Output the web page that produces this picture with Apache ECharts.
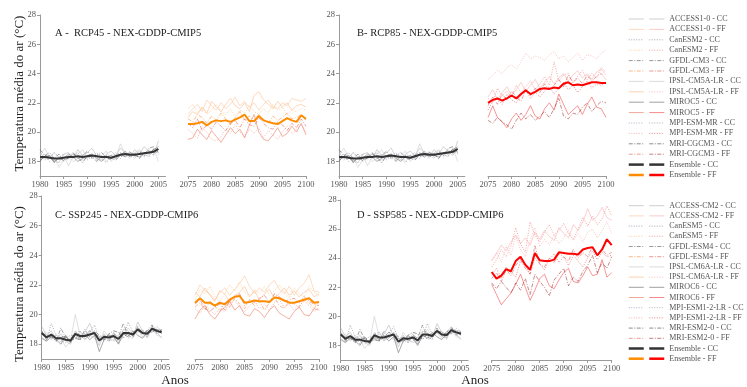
<!DOCTYPE html>
<html>
<head>
<meta charset="utf-8">
<script src="https://cdn.jsdelivr.net/npm/echarts@6/dist/echarts.min.js"></script>
<style>
  html, body { margin: 0; padding: 0; background: #fff; }
  #chart { width: 747px; height: 387px; }
</style>
</head>
<body>
<div id="chart"></div>
<script>
// years and ticks
const yearsHist = [1980,1981,1982,1983,1984,1985,1986,1987,1988,1989,1990,1991,1992,1993,1994,1995,1996,1997,1998,1999,2000,2001,2002,2003,2004,2005];
const yearsFut = [2075,2076,2077,2078,2079,2080,2081,2082,2083,2084,2085,2086,2087,2088,2089,2090,2091,2092,2093,2094,2095,2096,2097,2098,2099,2100];
const histTicks = [1980, 1985, 1990, 1995, 2000, 2005];
const futTicks = [2075, 2080, 2085, 2090, 2095, 2100];
const tempTicks = [18, 20, 22, 24, 26, 28];

const models5 = ['ACCESS1-0', 'CanESM2', 'GFDL-CM3', 'IPSL-CM5A-LR', 'MIROC5', 'MPI-ESM-MR', 'MRI-CGCM3'];
const models6 = ['ACCESS-CM2', 'CanESM5', 'GFDL-ESM4', 'IPSL-CM6A-LR', 'MIROC6', 'MPI-ESM1-2-LR', 'MRI-ESM2-0'];

// CMIP5 historical (panels A and B)
const cc5Access = [18.6,18.2,18.4,18.1,17.9,18.5,18.6,18.2,18.8,18.4,18.6,18.9,18.3,18.1,18.5,18.7,18.4,18.9,18.6,18.3,18.8,18.5,19.0,18.7,18.4,19.4];
const cc5Canesm = [18.2,18.5,18.0,18.3,17.6,18.1,18.4,18.0,18.2,18.5,18.1,18.3,18.6,18.2,17.9,18.3,18.5,18.2,18.7,18.4,18.2,18.6,18.3,18.8,18.5,18.7];
const cc5Gfdl = [18.8,18.4,18.6,18.2,18.5,18.0,18.3,18.6,18.2,18.4,18.7,18.2,18.4,18.6,18.3,18.1,18.4,18.6,18.3,18.6,18.5,18.7,18.4,18.9,19.0,18.6];
const cc5Ipsl = [18.4,18.9,18.3,18.6,18.2,18.4,17.7,18.3,18.5,18.8,18.2,18.5,18.1,18.4,18.7,18.0,18.3,19.2,18.5,18.2,18.6,18.8,18.5,18.3,18.9,18.0];
const cc5Miroc = [18.1,18.3,18.4,17.9,18.3,18.2,18.5,18.3,18.0,18.2,18.4,18.5,18.2,18.0,18.3,18.4,18.2,18.5,18.3,18.6,18.4,18.3,18.6,18.5,18.8,19.0];
const cc5Mpi = [18.5,18.1,18.2,18.6,18.3,18.5,18.1,18.4,18.6,18.1,18.3,18.2,18.5,18.4,18.0,18.4,18.6,18.3,18.4,18.7,18.3,18.6,18.4,18.4,18.7,18.8];
const cc5Mri = [18.0,18.4,18.3,18.0,18.2,18.1,18.2,18.5,18.3,17.9,18.4,18.3,18.0,18.3,18.4,18.2,18.1,18.4,18.7,18.3,18.5,18.2,18.6,18.6,18.8,18.5];
const cc5Ens = [18.3,18.3,18.25,18.2,18.2,18.25,18.3,18.3,18.35,18.3,18.35,18.4,18.35,18.3,18.3,18.25,18.35,18.45,18.5,18.45,18.45,18.5,18.55,18.6,18.65,18.85];

// CMIP6 historical (panels C and D)
const cc6Access = [19.2,18.6,18.9,18.3,18.7,18.2,18.0,18.9,18.4,18.8,19.4,18.6,17.9,18.7,18.3,18.8,18.1,19.0,18.9,18.5,19.5,18.9,18.5,19.2,18.8,18.4];
const cc6Canesm = [18.5,18.2,19.4,18.6,18.1,18.5,18.3,18.4,18.9,18.3,18.8,19.3,18.4,18.2,18.7,18.4,18.1,18.5,19.5,18.8,18.9,18.5,19.0,18.8,19.2,18.9];
const cc6Gfdl = [18.9,18.3,18.6,18.2,19.1,18.4,18.6,18.5,18.3,19.0,18.5,18.9,18.6,18.4,18.2,18.7,18.5,19.4,18.6,18.4,19.2,18.7,18.9,19.3,18.7,19.0];
const cc6Ipsl = [18.6,18.8,18.3,18.7,18.4,17.8,18.2,20.0,18.6,18.3,18.6,18.4,18.1,18.9,18.5,18.2,18.3,18.6,19.1,18.7,18.8,19.0,18.4,19.1,18.6,18.5];
const cc6Miroc = [18.4,18.2,18.5,18.3,18.0,18.6,18.1,18.6,18.4,18.7,18.3,18.6,17.5,18.3,18.6,18.5,18.0,18.7,18.5,18.9,18.6,18.4,18.8,18.9,19.0,18.7];
const cc6Mpi = [18.9,18.5,18.4,18.6,18.3,18.1,18.4,18.8,18.9,18.4,18.5,18.9,18.4,18.6,18.2,18.3,18.6,18.9,18.4,18.6,19.0,18.6,18.5,19.2,19.0,19.0];
const cc6Mri = [18.7,18.6,18.5,18.2,18.5,18.5,18.2,18.4,18.3,18.6,18.9,18.7,18.5,18.3,18.7,18.9,18.8,18.4,18.8,18.7,19.0,18.9,18.8,18.8,19.0,18.9];
const cc6Ens = [18.75,18.45,18.65,18.4,18.4,18.3,18.25,18.7,18.55,18.55,18.65,18.75,18.25,18.5,18.45,18.55,18.35,18.75,18.75,18.65,19.0,18.75,18.7,19.05,18.9,18.8];

// A - RCP45 future
const ffAAccess = [21.2,21.6,21.9,21.4,22.2,21.8,21.5,22.0,21.6,21.9,22.4,21.8,22.1,21.7,22.0,21.5,21.9,22.2,21.7,21.6,22.0,21.8,22.3,22.2,22.1,22.3];
const ffACanesm = [21.6,21.9,21.3,21.7,21.2,21.5,21.9,21.4,21.2,21.6,21.1,21.5,21.3,21.8,21.4,21.2,21.6,21.3,21.9,21.5,21.7,21.2,21.5,21.4,21.6,21.5];
const ffAGfdl = [20.9,20.7,21.2,21.0,20.6,21.1,20.8,21.3,20.9,20.5,21.0,21.4,20.8,21.1,20.7,21.2,20.9,20.6,21.1,20.8,21.0,21.3,20.9,21.0,21.2,20.8];
const ffAIpsl = [21.0,21.4,21.2,21.7,21.3,22.1,21.7,21.4,21.9,22.3,21.8,21.6,22.0,21.4,22.5,22.75,22.2,21.9,21.6,22.1,21.7,22.0,21.5,21.8,21.9,21.7];
const ffAMiroc = [19.5,19.6,20.2,19.8,19.5,20.1,19.7,19.3,19.8,20.3,19.9,20.2,19.6,20.5,21.2,20.0,19.5,19.4,19.8,20.3,19.7,19.9,20.4,20.0,20.6,19.8];
const ffAMpi = [20.2,19.9,19.6,20.3,20.0,19.5,19.4,19.7,20.2,19.9,20.5,20.0,19.7,20.2,19.9,20.3,19.6,20.1,19.8,19.5,20.0,20.4,19.9,20.2,20.5,20.0];
const ffAMri = [20.6,20.3,20.9,20.1,20.5,20.2,20.7,20.4,20.1,20.6,20.8,20.3,20.9,20.5,20.4,21.0,20.6,20.3,20.2,20.7,20.5,20.1,20.6,20.3,20.9,20.4];
const ffAEns = [20.55,20.55,20.6,20.7,20.45,20.7,20.8,20.75,20.8,20.7,20.85,21.0,21.2,20.75,20.75,21.1,20.8,20.7,20.6,20.55,20.75,20.95,20.8,20.7,21.15,20.9];

// B - RCP85 future
const ffBAccess = [22.4,22.9,22.2,22.7,23.1,22.5,22.9,23.4,22.8,23.2,23.6,23.0,23.4,23.8,23.3,23.7,24.0,23.5,23.9,24.2,23.7,24.0,23.6,24.1,24.3,23.9];
const ffBCanesm = [22.3,22.0,23.0,22.5,22.8,22.4,23.2,22.7,23.1,23.5,22.9,23.3,23.8,23.2,24.8,23.5,23.9,24.0,23.4,23.8,24.2,23.6,24.0,23.7,24.4,24.1];
const ffBGfdl = [21.8,22.4,21.9,22.6,22.2,22.8,22.4,22.1,22.9,22.5,23.0,22.7,23.3,22.9,23.2,23.6,23.1,23.9,23.4,23.7,23.3,23.9,23.5,23.8,24.0,23.6];
const ffBIpsl = [23.6,23.9,24.2,24.0,24.4,24.6,24.3,24.8,25.4,25.0,25.2,25.1,24.9,25.3,25.5,25.0,25.2,24.8,25.1,25.4,24.9,25.3,25.2,25.0,25.4,25.6];
const ffBMiroc = [21.0,21.8,21.0,20.7,20.3,20.9,21.3,20.8,21.2,21.8,21.1,20.9,21.6,22.0,21.5,22.6,21.9,21.2,21.5,21.8,21.2,21.9,22.4,21.7,21.6,21.0];
const ffBMpi = [21.5,22.1,22.3,21.9,22.6,22.2,22.0,22.5,22.9,22.3,22.7,22.4,22.8,23.1,22.6,23.0,23.4,22.9,23.2,22.7,23.1,23.5,23.0,23.3,23.2,23.4];
const ffBMri = [20.8,20.6,21.0,20.7,20.5,20.2,20.8,21.3,20.9,21.2,20.8,21.1,21.4,21.0,21.6,22.3,21.1,20.9,21.3,21.2,21.7,22.0,21.4,21.8,22.1,22.0];
const ffBEns = [22.0,22.2,22.3,22.15,22.3,22.5,22.3,22.6,22.85,22.6,22.75,22.95,23.0,22.95,23.05,23.0,23.3,23.4,23.2,23.25,23.2,23.3,23.4,23.4,23.35,23.35];

// C - SSP245 future
const ffCAccess = [21.3,22.0,21.6,21.4,21.0,21.5,21.8,21.3,21.7,22.1,22.6,21.9,21.4,21.8,21.5,22.0,22.3,21.7,21.4,21.9,21.3,21.8,22.1,22.7,21.6,21.5];
const ffCCanesm = [21.0,21.7,21.4,21.9,21.2,20.9,21.4,22.0,21.6,22.2,21.5,21.2,21.7,21.4,21.9,21.3,21.6,22.0,21.5,21.1,21.8,21.4,21.2,21.9,21.5,21.3];
const ffCGfdl = [20.5,20.8,20.3,20.9,20.6,20.2,20.8,20.5,21.1,20.7,20.4,21.0,20.6,20.9,20.3,20.8,21.2,20.6,20.4,20.9,20.7,20.5,21.0,20.8,20.4,20.9];
const ffCIpsl = [21.5,21.2,21.8,21.3,20.9,21.6,21.4,20.8,21.3,21.5,21.9,21.2,21.6,21.0,21.4,21.7,21.1,21.4,21.8,21.3,21.6,21.2,21.5,21.7,21.2,21.4];
const ffCMiroc = [19.7,20.3,20.6,20.0,19.7,20.2,20.5,20.9,20.3,20.6,20.0,19.9,20.4,20.2,19.8,20.3,20.6,20.1,19.9,19.7,20.2,20.5,20.0,19.9,20.4,20.3];
const ffCMpi = [20.4,20.1,20.6,20.3,20.0,20.4,20.2,20.7,21.0,20.5,20.2,20.6,20.9,20.4,20.7,20.3,20.8,21.0,20.5,20.7,20.3,20.6,20.9,20.6,20.2,20.5];
const ffCMri = [20.7,21.0,20.4,20.2,20.5,20.7,20.3,20.9,21.2,21.4,20.6,21.0,20.8,21.1,21.3,20.8,21.4,21.2,20.9,21.0,21.1,20.8,21.2,20.9,20.7,20.6];
const ffCEns = [20.8,21.1,20.8,20.8,20.6,20.8,20.7,21.0,21.2,21.25,20.8,20.85,20.95,20.9,20.9,20.85,21.15,21.1,20.95,20.8,20.8,20.9,21.0,21.1,20.8,20.85];

// D - SSP585 future
const ffDAccess = [23.8,24.3,24.9,24.5,25.1,25.6,25.0,25.4,24.9,25.8,25.3,25.9,25.5,25.2,26.1,25.7,25.4,26.3,25.9,26.5,27.4,26.6,26.9,27.5,26.8,26.6];
const ffDCanesm = [23.4,23.9,24.6,24.1,24.8,26.1,25.0,24.4,26.5,25.6,25.1,25.8,26.3,25.6,25.9,26.4,25.7,25.3,26.0,26.8,26.2,26.9,26.3,26.7,27.6,26.9];
const ffDGfdl = [22.6,23.0,22.4,23.2,22.8,23.5,23.9,23.3,22.9,24.9,23.6,23.4,24.0,23.7,24.3,24.1,23.8,24.6,24.0,24.4,24.1,24.8,24.3,24.6,24.2,24.4];
const ffDIpsl = [23.9,24.4,23.7,24.8,24.2,25.5,24.6,24.1,25.2,26.1,24.8,25.3,24.9,25.6,25.0,25.4,25.9,25.2,25.7,25.1,25.8,26.0,25.4,25.9,26.5,25.7];
const ffDMiroc = [22.2,21.5,20.8,21.2,21.6,22.2,22.9,22.0,21.1,21.8,22.6,22.9,22.1,21.9,22.5,23.0,23.3,22.4,22.3,22.8,23.4,22.8,22.9,23.9,22.7,23.0];
const ffDMpi = [22.9,23.3,22.6,23.4,23.0,22.7,23.8,23.5,22.9,24.0,23.6,23.2,23.9,24.3,23.7,24.1,23.5,24.2,23.8,23.4,24.0,24.5,23.9,24.4,24.1,24.2];
const ffDMri = [22.3,21.9,22.4,22.0,21.6,22.3,21.8,22.6,21.5,22.9,22.4,22.0,21.4,22.5,22.9,23.3,22.1,22.7,22.4,23.1,23.5,24.2,23.0,23.7,23.3,24.1];
const ffDEns = [23.05,22.6,22.8,23.25,23.1,23.8,24.1,23.55,23.2,24.35,23.85,23.8,23.8,23.9,24.4,24.35,24.3,24.3,24.25,24.6,24.7,24.75,24.2,24.6,25.3,24.9];

const hist5 = [cc5Access, cc5Canesm, cc5Gfdl, cc5Ipsl, cc5Miroc, cc5Mpi, cc5Mri];
const hist6 = [cc6Access, cc6Canesm, cc6Gfdl, cc6Ipsl, cc6Miroc, cc6Mpi, cc6Mri];
const futA = [ffAAccess, ffACanesm, ffAGfdl, ffAIpsl, ffAMiroc, ffAMpi, ffAMri];
const futB = [ffBAccess, ffBCanesm, ffBGfdl, ffBIpsl, ffBMiroc, ffBMpi, ffBMri];
const futC = [ffCAccess, ffCCanesm, ffCGfdl, ffCIpsl, ffCMiroc, ffCMpi, ffCMri];
const futD = [ffDAccess, ffDCanesm, ffDGfdl, ffDIpsl, ffDMiroc, ffDMpi, ffDMri];

// line styles
const DOT = [1, 1.5];
const DASHDOT = [4, 1.5, 1, 1.5];
const ccStyles = [
  ['rgba(185,185,185,0.7)', 'solid'],
  ['rgba(130,130,155,0.7)', DOT],
  ['rgba(110,110,110,0.7)', DASHDOT],
  ['rgba(205,205,205,0.7)', 'solid'],
  ['rgba(120,120,120,0.7)', 'solid'],
  ['rgba(150,140,170,0.7)', DOT],
  ['rgba(90,90,90,0.7)', DASHDOT]
];
const orangeStyles = [
  ['rgba(252,205,170,0.75)', 'solid'],
  ['rgba(253,185,110,0.7)', DOT],
  ['rgba(250,155,85,0.7)', DASHDOT],
  ['rgba(253,195,150,0.75)', 'solid'],
  ['rgba(232,110,80,0.6)', 'solid'],
  ['rgba(240,125,120,0.6)', DOT],
  ['rgba(222,90,80,0.6)', DASHDOT]
];
const redStyles = [
  ['rgba(250,180,180,0.7)', 'solid'],
  ['rgba(238,90,90,0.6)', DOT],
  ['rgba(220,80,80,0.6)', DASHDOT],
  ['rgba(245,150,150,0.65)', DOT],
  ['rgba(240,60,60,0.6)', 'solid'],
  ['rgba(220,50,50,0.6)', DOT],
  ['rgba(160,40,40,0.6)', DASHDOT]
];

const SERIF = "'Liberation Serif', 'Times New Roman', serif";

const grids = [
  { left: 40, top: 15, width: 125.5, height: 161 },
  { left: 188, top: 15, width: 118, height: 161 },
  { left: 339, top: 15, width: 125.8, height: 161 },
  { left: 488, top: 15, width: 118, height: 161 },
  { left: 41.7, top: 196, width: 127.2, height: 163 },
  { left: 195, top: 196, width: 124, height: 163 },
  { left: 340.7, top: 200, width: 127.5, height: 160 },
  { left: 491.7, top: 200, width: 120, height: 160 }
];

const panels = [
  { id: 'A', g: 0, models: models5, hist: hist5, histEns: cc5Ens, fut: futA, futEns: ffAEns, pal: orangeStyles, ens: '#ff8c00' },
  { id: 'B', g: 2, models: models5, hist: hist5, histEns: cc5Ens, fut: futB, futEns: ffBEns, pal: redStyles, ens: '#ff0000' },
  { id: 'C', g: 4, models: models6, hist: hist6, histEns: cc6Ens, fut: futC, futEns: ffCEns, pal: orangeStyles, ens: '#ff8c00' },
  { id: 'D', g: 6, models: models6, hist: hist6, histEns: cc6Ens, fut: futD, futEns: ffDEns, pal: redStyles, ens: '#ff0000' }
];

const axisLine = { show: true, lineStyle: { color: '#9a9a9a', width: 1 } };
const labelStyle = { fontFamily: SERIF, fontSize: 8.5, color: '#555' };

const xAxes = [];
const yAxes = [];
grids.forEach((g, i) => {
  const isHist = i % 2 === 0;
  const ticks = isHist ? histTicks : futTicks;
  xAxes.push({
    type: 'value', gridIndex: i,
    min: isHist ? 1980 : 2075, max: isHist ? 2006.5 : 2100,
    axisLine: axisLine,
    axisTick: { show: true, inside: false, length: 3, lineStyle: { color: '#9a9a9a' }, customValues: ticks },
    axisLabel: Object.assign({ margin: 4, customValues: ticks, formatter: v => String(v) }, labelStyle),
    splitLine: { show: false }
  });
  yAxes.push({
    type: 'value', gridIndex: i, min: 17, max: 28, show: isHist,
    axisLine: axisLine,
    axisTick: { show: true, inside: false, length: 3, lineStyle: { color: '#9a9a9a' }, customValues: tempTicks },
    axisLabel: Object.assign({ margin: 4, customValues: tempTicks, formatter: v => String(v) }, labelStyle),
    splitLine: { show: false }
  });
});

function lineSeries(name, gi, years, vals, color, type, width) {
  return {
    type: 'line', name: name, xAxisIndex: gi, yAxisIndex: gi,
    data: years.map((y, k) => [y, vals[k]]),
    symbol: 'none', showSymbol: false, silent: true,
    emphasis: { disabled: true },
    lineStyle: { color: color, type: type, width: width },
    itemStyle: { color: color },
    z: width > 1.5 ? 4 : 2
  };
}

const series = [];
const legends = [];
panels.forEach(p => {
  const items = [];
  p.models.forEach((m, k) => {
    const cc = ccStyles[k], ff = p.pal[k];
    const ccName = p.id + '|' + m + ' - CC';
    const ffName = p.id + '|' + m + ' - FF';
    series.push(lineSeries(ccName, p.g, yearsHist, p.hist[k], cc[0], cc[1], 0.9));
    series.push(lineSeries(ffName, p.g + 1, yearsFut, p.fut[k], ff[0], ff[1], 0.9));
    items.push({ name: ccName }, { name: ffName });
  });
  const eCC = p.id + '|Ensemble - CC', eFF = p.id + '|Ensemble - FF';
  series.push(lineSeries(eCC, p.g, yearsHist, p.histEns, '#333333', 'solid', 2));
  series.push(lineSeries(eFF, p.g + 1, yearsFut, p.futEns, p.ens, 'solid', 2));
  items.push({ name: eCC, lineStyle: { width: 2.5 } }, { name: eFF, lineStyle: { width: 2.5 } });

  const first = (p.id === 'A' || p.id === 'C');
  const upper = (p.id === 'A' || p.id === 'B');
  const step = upper ? 10.4 : 10.2;
  legends.push({
    orient: 'vertical', left: first ? 627.5 : 648, top: upper ? 13.8 : 200.6,
    padding: 0, itemGap: 0, itemWidth: 15, itemHeight: step,
    selectedMode: false,
    data: items,
    itemStyle: { opacity: 0 },
    lineStyle: { width: 1 },
    formatter: first ? (() => ' ') : (n => n.split('|')[1]),
    textStyle: { fontFamily: SERIF, fontSize: 8, color: '#555', lineHeight: step, height: step }
  });
});

const titleStyle = { fontFamily: SERIF, fontSize: 10.5, fontWeight: 'normal', color: '#222' };
const titles = [
  { text: 'A -  RCP45 - NEX-GDDP-CMIP5', left: 55, top: 27.5 },
  { text: 'B- RCP85 - NEX-GDDP-CMIP5', left: 357, top: 27.5 },
  { text: 'C- SSP245 - NEX-GDDP-CMIP6', left: 55, top: 209.5 },
  { text: 'D - SSP585 - NEX-GDDP-CMIP6', left: 357, top: 209.5 }
].map(t => Object.assign({ padding: 0, textStyle: titleStyle }, t));

const yName = 'Temperatura média do ar (°C)';
function bigText(text, x, y, rot) {
  return {
    type: 'text', x: x, y: y, rotation: rot, silent: true,
    style: { text: text, font: "13px 'Liberation Serif', serif", fill: '#222',
      textAlign: 'center', textVerticalAlign: 'middle', align: 'center', verticalAlign: 'middle' }
  };
}

const chart = echarts.init(document.getElementById('chart'), null, { renderer: 'canvas' });
chart.setOption({
  animation: false,
  backgroundColor: '#fff',
  title: titles,
  grid: grids,
  xAxis: xAxes,
  yAxis: yAxes,
  legend: legends,
  series: series,
  graphic: [
    bigText(yName, 20, 93.5, Math.PI / 2),
    bigText(yName, 20, 284, Math.PI / 2),
    bigText('Anos', 175, 381, 0),
    bigText('Anos', 475, 381, 0)
  ]
});
</script>
</body>
</html>
